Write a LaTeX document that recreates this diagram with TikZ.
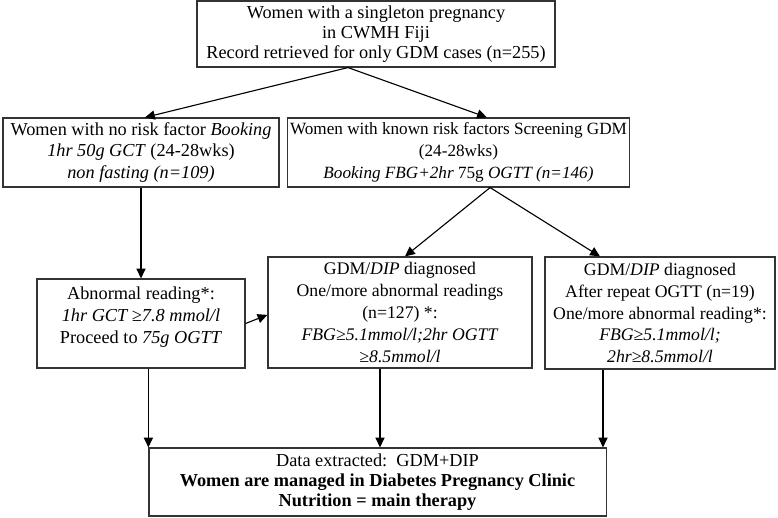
\documentclass[tikz,border=0pt]{standalone}
\usepackage{fontspec}
\setmainfont{Liberation Serif}
\usepackage{tikz}
\usetikzlibrary{arrows.meta, calc, positioning}
\tikzset{>={Triangle[length=7pt,width=6.5pt]}}
\tikzset{
  box/.style={draw=black!80, line width=0.8pt, align=center, inner sep=2pt,
    font=\fontsize{13}{14.4}\selectfont},
  tallbox/.style={box, font=\fontsize{12.6}{15.6}\selectfont},
  link/.style={->, line width=0.8pt}
}

\begin{document}
\begin{tikzpicture}[x=0.025cm, y=-0.025cm]
  \useasboundingbox (0,0) rectangle (778,518);
  % top row
  \node[box, minimum width=8.95cm, minimum height=1.65cm] (top) at (376,34)
    {Women with a singleton pregnancy\\ in CWMH Fiji\\ Record retrieved for only GDM cases (n=255)};
  % second row
  \node[box, minimum width=6.9cm, minimum height=1.725cm, font=\fontsize{13}{15.6}\selectfont] (norisk) at (141,152.5)
    {Women with no risk factor \textit{Booking}\\ \textit{1hr 50g GCT} (24-28wks)\\ \textit{non fasting (n=109)}};
  \node[box, minimum width=8.075cm, minimum height=1.725cm, font=\fontsize{12.2}{15.6}\selectfont] (risk) at (458.5,152.5)
    {Women with known risk factors Screening GDM\\ (24-28wks)\\ \textit{Booking FBG+2hr} 75g \textit{OGTT (n=146)}};
  % third row
  \node[box, minimum width=5.2cm, minimum height=2.225cm, font=\fontsize{13}{15.6}\selectfont] (abn) at (141,323.5)
    {Abnormal reading*:\\ \textit{1hr GCT ≥7.8 mmol/l}\\ Proceed to \textit{75g OGTT}\\[-4pt]};
  \node[tallbox, minimum width=6.6cm, minimum height=2.775cm] (diag) at (400,312.5)
    {GDM/\textit{DIP} diagnosed\\ One/more abnormal readings\\ (n=127) *:\\ \textit{FBG≥5.1mmol/l;2hr OGTT}\\ \textit{≥8.5mmol/l}};
  \node[tallbox, minimum width=5.75cm, minimum height=2.8cm] (repeat) at (660,313)
    {GDM/\textit{DIP} diagnosed\\ After repeat OGTT (n=19)\\ One/more abnormal reading*:\\ \textit{FBG≥5.1mmol/l;}\\ \textit{2hr≥8.5mmol/l}};
  % bottom
  \node[box, minimum width=11.425cm, minimum height=1.7cm] (clinic) at (377.5,482)
    {Data extracted:\ \ GDM+DIP\\ \textbf{Women are managed in Diabetes Pregnancy Clinic}\\ \textbf{Nutrition = main therapy}};

  \draw[link] ([xshift=-0.7cm]top.south) -- ([xshift=0.1cm]norisk.north);
  \draw[link] ([xshift=-0.7cm]top.south) -- ([xshift=0.71cm]risk.north);
  \draw[link] (norisk) -- (abn);
  \draw[link] ([xshift=0.79cm]risk.south) -- ([xshift=0.125cm]diag.north);
  \draw[link] ([xshift=0.79cm]risk.south) -- ([xshift=-1.5cm]repeat.north);
  \draw[link] (abn.east) -- ([yshift=-0.06cm]diag.west);
  \draw[link] (abn.south -| clinic.west) -- (clinic.north west);
  \draw[link] ([xshift=-0.5cm]diag.south) -- ([xshift=-0.5cm]diag.south |- clinic.north);
  \draw[link] ([xshift=-1.425cm]repeat.south) -- ([xshift=-1.425cm]repeat.south |- clinic.north);
\end{tikzpicture}
\end{document}
